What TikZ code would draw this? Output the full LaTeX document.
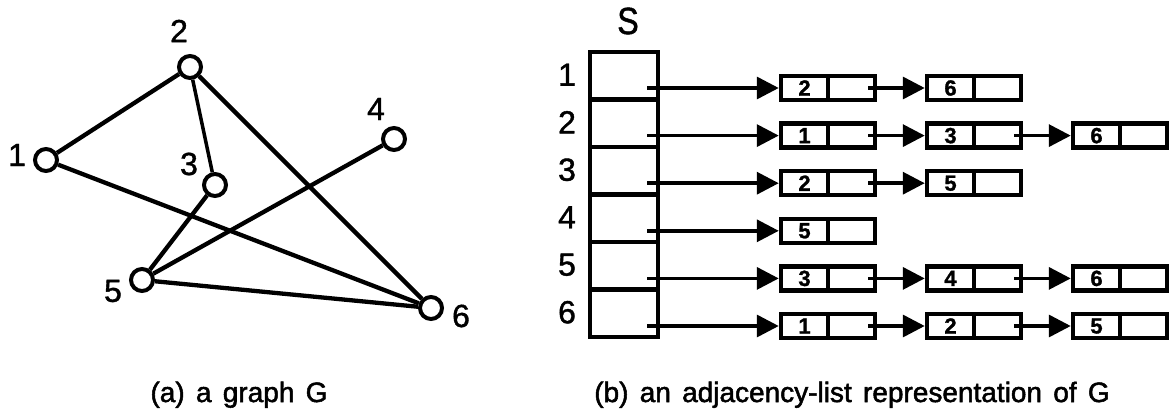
\documentclass[tikz,border=0pt]{standalone}
\usepackage{fontspec}
\usepackage{graphicx}
\setmainfont[FakeBold=1.2]{Liberation Sans}
\newfontfamily\capfont[WordSpace=1.45,FakeBold=1.8]{Liberation Sans}
\usetikzlibrary{arrows.meta,calc}
\begin{document}
\begin{tikzpicture}[x=1pt,y=-1pt,
  vtx/.style={circle,draw,line width=4pt,minimum size=22pt,inner sep=0pt},
  edge/.style={line width=4.3pt},
  lbl/.style={font=\fontsize{32}{32}\selectfont,inner sep=0pt},
  arrcell/.style={draw,line width=4.5pt,minimum width=68pt,minimum height=47.5pt,inner sep=0pt},
  lcell/.style={draw,line width=4.5pt,minimum width=47pt,minimum height=24pt,inner sep=0pt,font=\fontsize{22}{22}\selectfont\bfseries},
  ptr/.style={line width=3.5pt,-{Triangle[length=22pt,width=22pt]}},
  captxt/.style={font=\capfont\fontsize{28}{28}\selectfont,inner sep=0pt,anchor=base}
]
\useasboundingbox (0,0) rectangle (1174,412);

% ---------- (a) graph ----------
\node[vtx] (n1) at (46,160) {};
\node[vtx] (n2) at (190,67) {};
\node[vtx] (n3) at (215,185) {};
\node[vtx] (n4) at (394,139) {};
\node[vtx] (n5) at (142,280) {};
\node[vtx] (n6) at (431,308) {};
\node[lbl] (l1) at (17,155) {1};
\node[lbl] (l2) at (179,31) {2};
\node[lbl] (l3) at (189,164) {3};
\node[lbl] (l4) at (376,109) {4};
\node[lbl] (l5) at (113,291) {5};
\node[lbl] (l6) at (461,316) {6};
\draw[edge] (n1) -- (n2);
\draw[line width=3.5pt] (n2) -- (n3);
\draw[edge] (n2) -- (n6);
\draw[edge] (n1) -- (n6);
\draw[edge] (n3) -- (n5);
\draw[edge] (n4) -- (n5);
\draw[edge] (n5) -- (n6);
\node[captxt] (capa) at (239,402) {(a) a graph G};

% ---------- (b) adjacency lists ----------
\node[inner sep=0pt,font=\fontsize{38}{38}\selectfont] (S) at (628,21) {\scalebox{0.85}[1]{S}};
\foreach \i/\yc in {1/75.75,2/123.25,3/170.75,4/218.25,5/265.75,6/313.25}{
  \node[arrcell] (s\i) at (624,\yc) {};
  \node[lbl] (rl\i) at (567,\yc-1) {\i};
}

% list cells: row / column / value
\foreach \r/\c/\v in {1/1/2,1/2/6,
                      2/1/1,2/2/3,2/3/6,
                      3/1/2,3/2/5,
                      4/1/5,
                      5/1/3,5/2/4,5/3/6,
                      6/1/1,6/2/2,6/3/5}{
  \pgfmathsetmacro{\yy}{88+47.6*(\r-1)}
  \pgfmathsetmacro{\xx}{781+146*(\c-1)}
  \node[lcell] (b\r c\c a) at (\xx+23.5,\yy) {\v};
  \node[lcell] (b\r c\c b) at (\xx+70.5,\yy) {};
}

% pointers from the array
\foreach \r in {1,...,6}{
  \coordinate (p\r) at ($(s\r.east)+(-13,0)$);
  \draw[ptr] (p\r |- b\r c1a) -- (b\r c1a.west);
}
% pointers between list elements
\foreach \r/\c/\d in {1/1/2,2/1/2,2/2/3,3/1/2,5/1/2,5/2/3,6/1/2,6/2/3}{
  \coordinate (q\r\c) at ($(b\r c\c b.east)+(-9,0)$);
  \draw[ptr] (q\r\c) -- (b\r c\d a.west);
}

\node[captxt,anchor=base east] (capb) at (1110,402) {(b) an adjacency-list representation of G};
\end{tikzpicture}
\end{document}
